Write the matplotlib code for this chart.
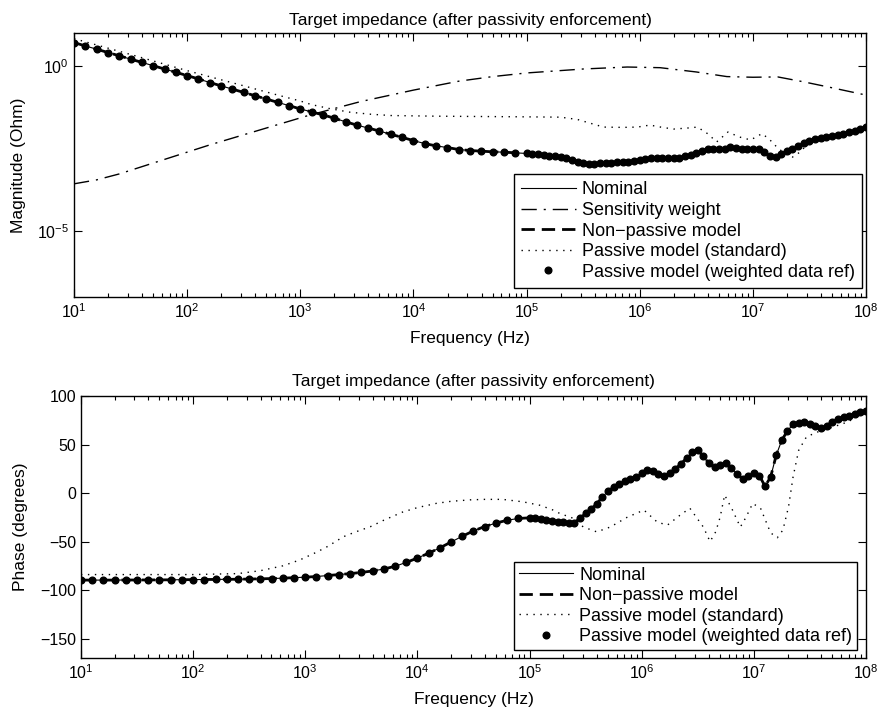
import numpy as np
import matplotlib
matplotlib.use('Agg')
import matplotlib.pyplot as plt
from matplotlib.ticker import FixedLocator, NullLocator

plt.rcParams['font.family'] = ['Liberation Sans', 'DejaVu Sans']
plt.rcParams['mathtext.fontset'] = 'custom'
plt.rcParams['mathtext.rm'] = 'Liberation Sans'
plt.rcParams['mathtext.it'] = 'Liberation Sans'

TITLE = 'Target impedance (after passivity enforcement)'

# frequency samples (log10 Hz) for nominal / weighted model
f_nom = [1.0, 1.1, 1.2, 1.3, 1.4, 1.5, 1.6, 1.7, 1.8, 1.9,
         2.0, 2.1, 2.2, 2.3, 2.4, 2.5, 2.6, 2.7, 2.8, 2.9,
         3.0, 3.1, 3.2, 3.3, 3.4, 3.5, 3.6, 3.7, 3.8, 3.9,
         4.0, 4.1, 4.2, 4.3, 4.4, 4.5, 4.6, 4.7, 4.8, 4.9,
         5.0, 5.05, 5.1, 5.15, 5.2, 5.25, 5.3, 5.35, 5.4, 5.45,
         5.5, 5.55, 5.6, 5.65, 5.7, 5.75, 5.8, 5.85, 5.9, 5.95,
         6.0, 6.05, 6.1, 6.15, 6.2, 6.25, 6.3, 6.35, 6.4, 6.45,
         6.5, 6.55, 6.6, 6.65, 6.7, 6.75, 6.8, 6.85, 6.9, 6.95,
         7.0, 7.05, 7.1, 7.15, 7.2, 7.25, 7.3, 7.35, 7.4, 7.45,
         7.5, 7.55, 7.6, 7.65, 7.7, 7.75, 7.8, 7.85, 7.9, 7.95, 8.0]

# log10 |Z| of nominal data
mag_nom = [0.71, 0.61, 0.51, 0.41, 0.31, 0.21, 0.11, 0.01, -0.09, -0.19,
           -0.29, -0.39, -0.50, -0.60, -0.70, -0.80, -0.90, -1.00, -1.10, -1.20,
           -1.30, -1.39, -1.48, -1.58, -1.69, -1.79, -1.88, -1.97, -2.07, -2.16,
           -2.26, -2.35, -2.42, -2.47, -2.53, -2.56, -2.58, -2.60, -2.61, -2.63,
           -2.65, -2.67, -2.68, -2.70, -2.72, -2.74, -2.76, -2.80, -2.85, -2.90,
           -2.93, -2.96, -2.97, -2.95, -2.94, -2.93, -2.92, -2.92, -2.91, -2.88,
           -2.85, -2.81, -2.79, -2.79, -2.79, -2.79, -2.80, -2.79, -2.74, -2.70,
           -2.63, -2.56, -2.52, -2.52, -2.52, -2.51, -2.46, -2.49, -2.52, -2.51,
           -2.50, -2.50, -2.62, -2.73, -2.75, -2.67, -2.58, -2.50, -2.42, -2.34,
           -2.26, -2.22, -2.19, -2.16, -2.12, -2.09, -2.05, -2.01, -1.96, -1.91, -1.85]

# phase (deg) of nominal data
ph_nom = [-89.7, -89.7, -89.7, -89.7, -89.6, -89.6, -89.5, -89.5, -89.4, -89.3,
          -89.2, -89.1, -89.0, -88.9, -88.8, -88.6, -88.4, -88.1, -87.7, -87.2,
          -86.7, -86.0, -85.0, -84.0, -83.0, -81.8, -80.3, -78.3, -75.5, -71.5,
          -67.0, -62.0, -56.5, -50.5, -44.5, -39.0, -34.5, -31.0, -28.0, -26.2,
          -25.5, -25.8, -26.5, -27.5, -28.5, -29.5, -30.3, -31.0, -30.5, -26.0,
          -21.0, -16.5, -11.0, -4.0, 2.0, 6.0, 9.5, 12.0, 14.6, 17.0,
          20.5, 24.0, 22.7, 19.5, 17.5, 20.6, 25.0, 30.0, 36.0, 42.0,
          44.0, 38.0, 30.5, 26.5, 28.5, 30.5, 25.5, 20.0, 14.6, 17.5,
          20.6, 18.0, 7.0, 16.5, 39.0, 54.6, 64.0, 71.0, 72.5, 73.0,
          71.0, 69.0, 67.0, 69.5, 73.0, 76.0, 78.0, 79.5, 82.0, 83.5, 84.5]

# sensitivity weight (log10)
f_wgt = [1.0, 1.2, 1.4, 1.6, 1.8, 2.0, 2.2, 2.64, 3.09, 3.53, 4.0, 4.4, 4.7,
         5.0, 5.5, 5.89, 6.18, 6.5, 6.77, 7.0, 7.22, 7.45, 7.66, 8.0]
mag_wgt = [-3.57, -3.45, -3.27, -3.05, -2.83, -2.61, -2.39, -1.94, -1.48, -1.08, -0.73, -0.46, -0.32,
           -0.21, -0.09, -0.03, -0.05, -0.18, -0.32, -0.34, -0.33, -0.48, -0.63, -0.88]

# passive model (standard), magnitude
f_std_m = [1.0, 1.5, 2.0, 2.5, 2.8, 3.0, 3.1, 3.26, 3.44, 3.62, 3.8, 4.2, 4.6, 5.0, 5.3,
           5.45, 5.55, 5.68, 5.85, 5.98, 6.09, 6.2, 6.3, 6.42, 6.51, 6.6, 6.68, 6.78,
           6.88, 6.98, 7.08, 7.14, 7.21, 7.28, 7.35, 7.42, 7.5, 7.6, 7.8, 8.0]
mag_std = [0.83, 0.35, -0.14, -0.60, -0.88, -1.06, -1.17, -1.29, -1.40, -1.46, -1.50, -1.52, -1.53, -1.54, -1.55,
           -1.62, -1.72, -1.85, -1.86, -1.85, -1.79, -1.86, -1.91, -1.88, -1.85, -2.05, -2.30, -2.00,
           -2.15, -2.24, -2.05, -2.20, -2.45, -2.65, -2.76, -2.60, -2.30, -2.19, -2.05, -1.85]

# passive model (standard), phase
f_std_p = [1.0, 1.5, 2.0, 2.4, 2.6, 2.8, 2.95, 3.1, 3.2, 3.34, 3.45, 3.58, 3.7, 3.87, 4.0,
           4.17, 4.3, 4.47, 4.6, 4.76, 4.94, 5.09, 5.2, 5.27, 5.39, 5.48, 5.6, 5.72, 5.87,
           6.02, 6.14, 6.23, 6.34, 6.43, 6.55, 6.61, 6.66, 6.7, 6.74, 6.81, 6.88, 6.93,
           6.99, 7.06, 7.15, 7.21, 7.26, 7.31, 7.35, 7.4, 7.47, 7.57, 7.68, 7.83, 7.95, 8.0]
ph_std = [-84, -84, -84, -83, -80, -75, -69, -61, -55, -45, -40, -34.7, -28, -19.5, -15,
          -10.6, -8.5, -7, -6.5, -6.5, -9, -12.5, -17, -21, -26, -35, -40, -35, -25,
          -17.5, -30, -33, -23, -15.6, -35, -50, -40, -24.7, -2, -17.5, -35, -25,
          -10.7, -15.6, -41, -46, -38, -14, 16.5, 44, 58, 63, 67, 73, 80, 82]

x_decades = [1, 2, 3, 4, 5, 6, 7, 8]


def hz(e):
    return 10.0 ** np.array(e, dtype=float)


def style_axis(ax):
    ax.set_xscale('log')
    ax.set_xlim(10, 1e8)
    ax.xaxis.set_major_locator(FixedLocator(hz(x_decades)))
    minors = [m * 10.0 ** d for d in x_decades[:-1] for m in range(2, 10)]
    ax.xaxis.set_minor_locator(FixedLocator(minors))
    ax.tick_params(which='both', direction='in', top=True, right=True, labelsize=11.5, width=0.8)
    ax.tick_params(which='major', length=5.5)
    ax.tick_params(which='minor', length=3)
    for s in ax.spines.values():
        s.set_linewidth(1.0)


def add_legend(ax, anchor, pad):
    leg = ax.legend(loc='lower right', bbox_to_anchor=anchor, borderaxespad=0,
                    fontsize=13, handlelength=3.0, handletextpad=0.35,
                    labelspacing=0.2, borderpad=pad, fancybox=False,
                    framealpha=1, edgecolor='black')
    leg.get_frame().set_linewidth(1.0)


fig = plt.figure(figsize=(8.81, 7.15), dpi=100)

# ---------------- magnitude ----------------
ax1 = fig.add_axes([0.084, 0.5846, 0.899, 0.3692])
ax1.plot(hz(f_nom), hz(mag_nom), '-', color='black', lw=0.8, label='Nominal')
ax1.plot(hz(f_wgt), hz(mag_wgt), color='black', lw=1.0, ls=(0, (11, 5, 1.5, 5)),
         label='Sensitivity weight')
ax1.plot(hz(f_nom), hz(mag_nom), color='black', lw=2.0, ls=(0, (4.8, 2.5)),
         label='Non\u2212passive model')
ax1.plot(hz(f_std_m), hz(mag_std), color='black', lw=1.0, ls=(0, (1, 4)),
         label='Passive model (standard)')
ax1.plot(hz(f_nom), hz(mag_nom), 'o', color='black', ms=4.8, ls='none',
         label='Passive model (weighted data ref)')
style_axis(ax1)
ax1.set_yscale('log')
ax1.set_ylim(1e-7, 1e1)
ax1.yaxis.set_major_locator(FixedLocator([1e-5, 1e0]))
ax1.yaxis.set_minor_locator(NullLocator())
ax1.set_title(TITLE, fontsize=12.5, pad=6)
ax1.set_xlabel('Frequency (Hz)', fontsize=12.5)
ax1.set_ylabel('Magnitude (Ohm)', fontsize=12.5)
ax1.xaxis.set_label_coords(0.5, -0.13)
ax1.yaxis.set_label_coords(-0.06, 0.5)
add_legend(ax1, (0.995, 0.034), 0.4)

# ---------------- phase ----------------
ax2 = fig.add_axes([0.0919, 0.0797, 0.891, 0.3664])
ax2.plot(hz(f_nom), ph_nom, '-', color='black', lw=0.8, label='Nominal')
ax2.plot(hz(f_nom), ph_nom, color='black', lw=2.0, ls=(0, (4.8, 2.5)),
         label='Non\u2212passive model')
ax2.plot(hz(f_std_p), ph_std, color='black', lw=1.0, ls=(0, (1, 4)),
         label='Passive model (standard)')
ax2.plot(hz(f_nom), ph_nom, 'o', color='black', ms=4.8, ls='none',
         label='Passive model (weighted data ref)')
style_axis(ax2)
ax2.set_ylim(-170, 100)
ax2.set_yticks([-150, -100, -50, 0, 50, 100])
ax2.set_yticklabels(['\u2212150', '\u2212100', '\u221250', '0', '50', '100'])
ax2.set_title(TITLE, fontsize=12.5, pad=7)
ax2.set_xlabel('Frequency (Hz)', fontsize=12.5)
ax2.set_ylabel('Phase (degrees)', fontsize=12.5)
ax2.xaxis.set_label_coords(0.5, -0.13)
ax2.yaxis.set_label_coords(-0.068, 0.5)
add_legend(ax2, (0.9885, 0.031), 0.25)

fig.savefig('out.png', dpi=100)
